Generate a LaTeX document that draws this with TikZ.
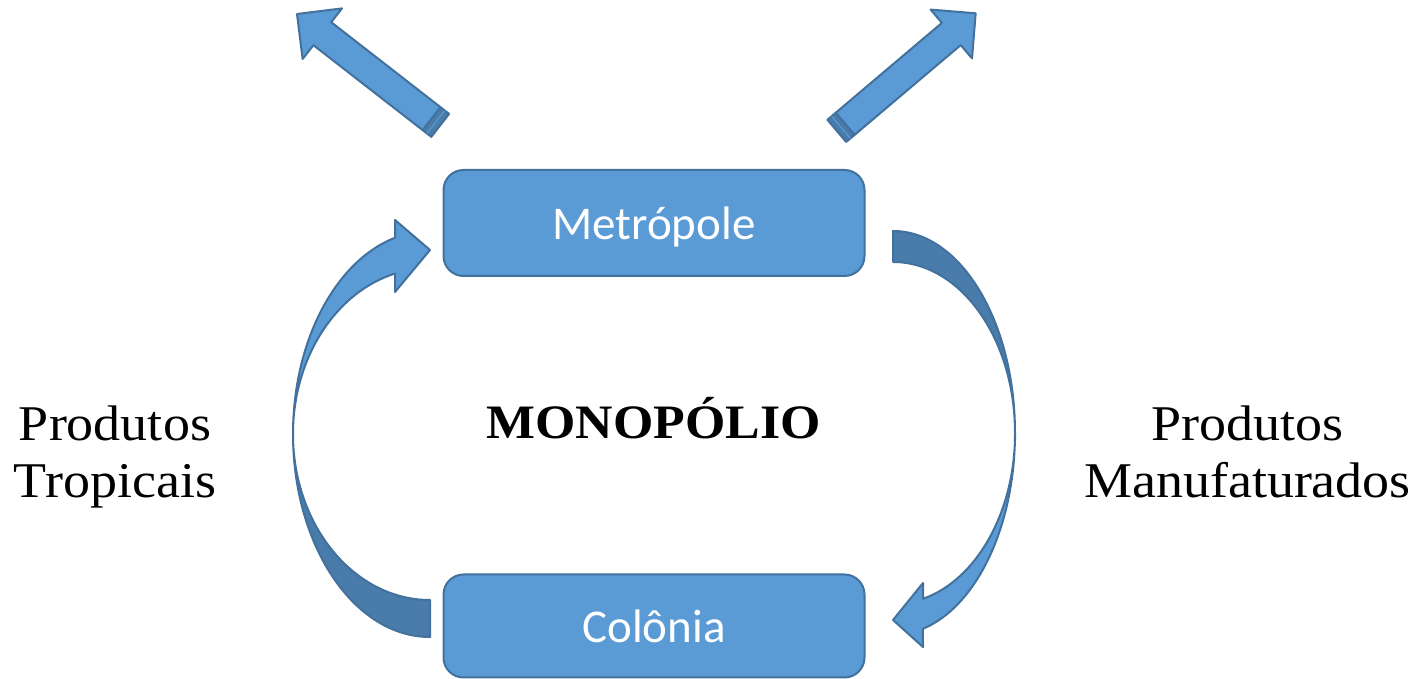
\documentclass[tikz,border=0pt]{standalone}
\usepackage{fontspec}
\usetikzlibrary{calc}
\newfontfamily\boxfont{Carlito}
\newfontfamily\labfont[FakeStretch=1.08]{Liberation Serif}
\definecolor{fillb}{HTML}{5B9BD5}
\definecolor{lineb}{HTML}{41719C}
\definecolor{darkb}{HTML}{497CAA}
\tikzset{
  box/.style={draw=lineb, line width=2pt, fill=fillb, rounded corners=20pt,
    minimum width=421pt, inner sep=0pt, text=white, text height=33pt, text depth=0pt,
    font=\boxfont\fontsize{47}{50}\selectfont},
  arrowshape/.style={draw=lineb, line width=2pt, fill=fillb, line join=round},
  arrowback/.style={draw=lineb, line width=2pt, fill=darkb, line join=round},
  lab/.style={font=\labfont\fontsize{50}{57}\selectfont, align=center, inner sep=0pt, anchor=north},
  titlelab/.style={font=\labfont\bfseries\fontsize{48}{52}\selectfont, inner sep=0pt, anchor=base}
}
\begin{document}
\begin{tikzpicture}[x=1pt,y=1pt]
\useasboundingbox (0,0) rectangle (1424,679);

% boxes
\node[box, minimum height=106pt] (met) at (654,456) {Metrópole};
\node[box, minimum height=103pt] (col) at (654,53) {Colônia};

% left curved arrow (Colônia -> Metrópole)
\coordinate (lc) at (430,245);
\draw[arrowback] ($(lc)+(-137,0)$) arc[start angle=180, end angle=270, x radius=137, y radius=203]
  -- ++(0,37) arc[start angle=270, end angle=180, x radius=137, y radius=166] -- cycle;
\draw[arrowshape] ($(lc)+(-137,0)$) arc[start angle=180, end angle=104.8, x radius=137, y radius=203]
  -- (395,459) -- (430,429) -- (395,387) -- (395,405.5)
  arc[start angle=104.8, end angle=180, x radius=137, y radius=166] -- cycle;

% right curved arrow (Metrópole -> Colônia)
\coordinate (rc) at (893,246);
\draw[arrowback] ($(rc)+(122,0)$) arc[start angle=0, end angle=90, x radius=122, y radius=202]
  -- ++(0,-31) arc[start angle=90, end angle=0, x radius=122, y radius=171] -- cycle;
\draw[arrowshape] ($(rc)+(122,0)$) arc[start angle=0, end angle=-75.8, x radius=122, y radius=202]
  -- (923,32) -- (893,59) -- (923,96) -- (923,80.2)
  arc[start angle=-75.8, end angle=0, x radius=122, y radius=171] -- cycle;

% top-left straight arrow
\draw[arrowback] (440.4,571.9) -- (449.1,565.1) -- (431.3,542.1) -- (422.6,548.9) -- cycle;
\draw[fillb, line width=1pt] (444.7,568.5) -- (427.0,545.5);
\draw[arrowshape] (297,665) -- (342,670.6) -- (331.2,656.8) -- (440.4,571.9)
  -- (422.6,548.9) -- (313.4,633.8) -- (302.6,620) -- cycle;

% top-right straight arrow
\draw[arrowback] (835.8,566.3) -- (827.4,559.2) -- (846.2,537.0) -- (854.6,544.1) -- cycle;
\draw[fillb, line width=1pt] (831.6,562.8) -- (850.4,540.6);
\draw[arrowshape] (975.7,665.7) -- (930.6,669.4) -- (941.9,656.1) -- (835.8,566.3)
  -- (854.6,544.1) -- (960.7,633.9) -- (972.0,620.6) -- cycle;

% labels
\node[titlelab] (mono) at (653.5,240) {MONOPÓLIO};
\node[lab] (trop) at (115,273) {Produtos\\Tropicais};
\node[lab] (manu) at (1247.5,273) {Produtos\\Manufaturados};
\end{tikzpicture}
\end{document}
